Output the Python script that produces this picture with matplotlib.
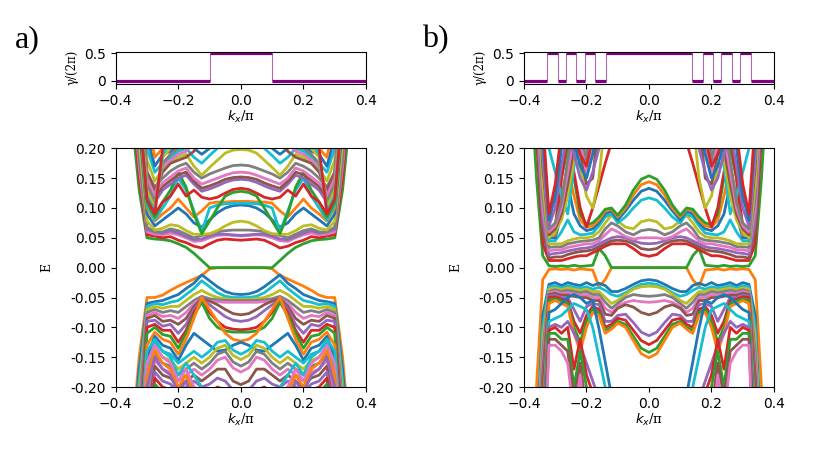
import numpy as np
import matplotlib
matplotlib.use("Agg")
import matplotlib.pyplot as plt

# ---------------- data ----------------
# Berry phase step data (edges of constant segments, value of each segment)
gamma_a_edges = [-0.4, -0.1, 0.1, 0.4]
gamma_a_vals = [0.0, 0.5, 0.0]
gamma_b_edges = [-0.4, -0.325, -0.29, -0.266, -0.232, -0.204, -0.172, -0.139,
                 0.139, 0.172, 0.204, 0.232, 0.266, 0.29, 0.325, 0.4]
gamma_b_vals = [0, .5, 0, .5, 0, .5, 0, .5, 0, .5, 0, .5, 0, .5, 0]

# half k grids (spectrum is symmetric in k)
ka_half = [0, .025, .05, .075, .1, .125, .15, .175, .2, .225, .25, .275, .3, .325, .35, .4]
kb_half = [0, .025, .05, .075, .1, .12, .14, .16, .18, .2, .22, .24, .26, .28, .3, .32, .34, .36, .4]

# panel a, E > 0 bands
a_upper = [
    [0, 0, 0, 0, 0, .012, .024, .034, .040, .045, .047, .048, .050, .13, .26, .40],
    [.046, .047, .048, .046, .040, .033, .036, .042, .046, .052, .050, .053, .055, .15, .30, .45],
    [.053, .054, .055, .054, .050, .045, .044, .050, .055, .058, .055, .056, .060, .17, .32, .45],
    [.054, .055, .056, .056, .053, .048, .047, .052, .058, .062, .058, .060, .064, .18, .33, .45],
    [.063, .063, .062, .060, .056, .054, .050, .056, .062, .065, .060, .060, .068, .19, .34, .45],
    [.078, .076, .070, .062, .057, .056, .056, .062, .070, .072, .066, .063, .078, .21, .36, .45],
    [.105, .104, .100, .092, .080, .068, .075, .090, .100, .090, .080, .070, .090, .24, .40, .45],
    [.111, .111, .110, .110, .108, .095, .085, .100, .115, .100, .090, .078, .100, .26, .40, .45],
    [.108, .108, .107, .105, .100, .060, .095, .130, .150, .120, .100, .080, .105, .27, .40, .45],
    [.128, .126, .120, .100, .078, .057, .090, .135, .160, .130, .110, .085, .110, .28, .40, .45],
    [.133, .131, .125, .118, .115, .118, .130, .120, .140, .120, .110, .090, .120, .30, .40, .45],
    [.148, .147, .143, .137, .132, .128, .140, .155, .150, .140, .130, .110, .130, .30, .40, .45],
    [.152, .151, .148, .142, .137, .133, .145, .160, .156, .146, .136, .118, .140, .32, .40, .45],
    [.160, .159, .155, .150, .145, .140, .150, .167, .162, .152, .142, .125, .150, .34, .40, .45],
    [.172, .171, .167, .162, .157, .150, .160, .175, .170, .162, .150, .135, .160, .36, .40, .45],
    [.198, .197, .192, .180, .168, .155, .170, .190, .185, .175, .165, .145, .180, .38, .40, .45],
    [.220, .218, .210, .200, .188, .175, .185, .200, .195, .185, .175, .160, .200, .40, .40, .45],
    [.240, .235, .228, .215, .200, .190, .200, .210, .205, .195, .190, .170, .220, .40, .45, .45],
    [.250, .250, .240, .230, .220, .210, .200, .220, .215, .205, .200, .185, .250, .40, .45, .45],
    [.300, .290, .270, .250, .230, .210, .195, .185, .180, .175, .160, .130, .160, .32, .45, .45],
    [.320, .310, .290, .270, .250, .230, .210, .195, .190, .180, .170, .120, .150, .31, .45, .45],
    [.340, .330, .310, .290, .270, .250, .230, .210, .200, .190, .175, .110, .140, .30, .45, .45],
    [.360, .350, .330, .310, .290, .270, .250, .220, .210, .200, .185, .100, .130, .29, .45, .45],
    [.380, .370, .350, .330, .310, .290, .270, .240, .220, .210, .190, .095, .120, .28, .45, .45],
    [.400, .390, .370, .350, .330, .310, .290, .260, .230, .220, .200, .090, .115, .27, .45, .45],
]
a_upper_colors = ['C2', 'C3', 'C6', 'C4', 'C7', 'C8', 'C0', 'C1', 'C9', 'C2', 'C3',
                  'C4', 'C5', 'C6', 'C7', 'C8', 'C9', 'C0', 'C1', 'C5', 'C6', 'C7',
                  'C8', 'C9', 'C3']

# panel a, E < 0 bands
a_lower = [
    [0, 0, 0, 0, -.002, -.013, -.019, -.025, -.031, -.038, -.046, -.050, -.050, -.15, -.30, -.45],
    [-.045, -.044, -.040, -.032, -.022, -.012, -.026, -.035, -.045, -.050, -.055, -.057, -.060, -.17, -.32, -.45],
    [-.050, -.050, -.048, -.042, -.032, -.022, -.035, -.045, -.055, -.058, -.062, -.060, -.065, -.19, -.34, -.45],
    [-.053, -.053, -.052, -.050, -.045, -.038, -.045, -.055, -.065, -.065, -.068, -.065, -.070, -.21, -.36, -.45],
    [-.055, -.055, -.055, -.054, -.052, -.048, -.055, -.065, -.075, -.072, -.075, -.070, -.075, -.23, -.38, -.45],
    [-.058, -.058, -.058, -.057, -.056, -.052, -.060, -.075, -.085, -.080, -.082, -.075, -.080, -.25, -.40, -.45],
    [-.079, -.077, -.070, -.062, -.056, -.052, -.065, -.085, -.095, -.088, -.090, -.080, -.085, -.27, -.40, -.45],
    [-.090, -.088, -.082, -.072, -.062, -.054, -.070, -.095, -.110, -.095, -.098, -.088, -.090, -.29, -.40, -.45],
    [-.104, -.103, -.100, -.090, -.075, -.056, -.075, -.105, -.125, -.105, -.105, -.095, -.100, -.31, -.40, -.45],
    [-.108, -.108, -.106, -.100, -.085, -.058, -.080, -.110, -.135, -.115, -.112, -.100, -.110, -.33, -.40, -.45],
    [-.123, -.120, -.110, -.090, -.070, -.050, -.085, -.120, -.145, -.125, -.120, -.108, -.130, -.35, -.40, -.45],
    [-.125, -.130, -.138, -.140, -.130, -.120, -.110, -.130, -.155, -.135, -.130, -.115, -.150, -.40, -.45, -.45],
    [-.145, -.138, -.122, -.125, -.140, -.150, -.140, -.150, -.160, -.145, -.140, -.125, -.170, -.40, -.45, -.45],
    [-.154, -.147, -.130, -.135, -.150, -.160, -.150, -.160, -.170, -.155, -.150, -.135, -.190, -.40, -.45, -.45],
    [-.165, -.158, -.140, -.145, -.160, -.170, -.160, -.170, -.180, -.165, -.160, -.145, -.210, -.40, -.45, -.45],
    [-.175, -.168, -.150, -.155, -.170, -.180, -.170, -.180, -.190, -.175, -.170, -.155, -.230, -.40, -.45, -.45],
    [-.196, -.190, -.170, -.170, -.180, -.190, -.180, -.190, -.200, -.185, -.180, -.165, -.250, -.40, -.45, -.45],
    [-.210, -.205, -.190, -.185, -.195, -.200, -.190, -.200, -.210, -.195, -.190, -.175, -.270, -.40, -.45, -.45],
    [-.225, -.220, -.205, -.200, -.210, -.210, -.200, -.210, -.220, -.205, -.200, -.185, -.290, -.40, -.45, -.45],
    [-.240, -.235, -.220, -.215, -.220, -.220, -.210, -.220, -.230, -.215, -.210, -.195, -.310, -.45, -.45, -.45],
    [-.260, -.250, -.240, -.230, -.220, -.200, -.180, -.160, -.180, -.150, -.140, -.120, -.140, -.30, -.45, -.45],
    [-.280, -.270, -.260, -.250, -.240, -.220, -.200, -.170, -.190, -.160, -.150, -.130, -.160, -.32, -.45, -.45],
    [-.300, -.290, -.280, -.270, -.260, -.240, -.210, -.180, -.200, -.170, -.160, -.140, -.180, -.34, -.45, -.45],
    [-.320, -.310, -.300, -.290, -.280, -.260, -.230, -.190, -.210, -.180, -.170, -.150, -.200, -.36, -.45, -.45],
]
a_lower_colors = ['C1', 'C0', 'C9', 'C8', 'C7', 'C6', 'C5', 'C4', 'C3', 'C2', 'C1', 'C0',
                  'C9', 'C8', 'C7', 'C6', 'C5', 'C4', 'C3', 'C2', 'C9', 'C6', 'C1', 'C4']

# panel b, E > 0 bands
b_upper = [
    [0, 0, 0, 0, 0, 0, .020, .032, .004, .003, .002, .004, .002, .003, .002, .003, .020, .15, .5],
    [.019, .022, .032, .040, .040, .040, .036, .030, .025, .020, .020, .018, .015, .012, .012, .012, .040, .22, .5],
    [.030, .032, .040, .045, .046, .045, .040, .035, .030, .028, .027, .025, .022, .018, .018, .016, .060, .24, .5],
    [.040, .041, .045, .050, .052, .050, .045, .040, .035, .033, .032, .030, .028, .025, .024, .022, .080, .26, .5],
    [.050, .050, .048, .052, .060, .065, .055, .045, .040, .040, .038, .036, .034, .030, .030, .028, .100, .28, .5],
    [.064, .062, .055, .060, .070, .075, .065, .050, .046, .045, .044, .042, .040, .035, .035, .034, .120, .30, .5],
    [.080, .077, .065, .068, .078, .088, .075, .060, .052, .050, .050, .048, .045, .040, .040, .040, .140, .32, .5],
    [.117, .113, .100, .085, .075, .090, .085, .070, .058, .056, .055, .060, .080, .060, .045, .045, .160, .34, .5],
    [.133, .128, .113, .095, .080, .095, .090, .075, .065, .062, .070, .090, .140, .090, .050, .050, .180, .36, .5],
    [.144, .139, .122, .100, .085, .098, .095, .080, .070, .068, .080, .120, .170, .120, .055, .055, .200, .38, .5],
    [.154, .148, .130, .105, .088, .100, .098, .085, .075, .072, .090, .150, .200, .150, .060, .060, .220, .40, .5],
    [.45, .40, .35, .30, .25, .21, .175, .137, .100, .068, .100, .160, .220, .150, .070, .060, .240, .45, .5],
    [.5, .5, .5, .5, .5, .5, .5, .45, .35, .28, .22, .17, .09, .12, .16, .20, .30, .5, .5],
    [.5, .5, .5, .5, .45, .35, .25, .15, .10, .12, .17, .18, .12, .08, .06, .05, .15, .40, .5],
    [.5, .5, .5, .5, .5, .45, .35, .25, .15, .14, .19, .20, .14, .09, .065, .055, .17, .42, .5],
    [.5, .5, .5, .5, .5, .5, .45, .35, .20, .16, .21, .22, .16, .10, .07, .06, .19, .44, .5],
    [.5, .5, .5, .5, .5, .5, .5, .45, .30, .18, .23, .24, .18, .11, .075, .065, .21, .46, .5],
    [.5, .5, .45, .40, .35, .30, .25, .20, .16, .13, .15, .19, .23, .17, .10, .07, .20, .45, .5],
    [.5, .5, .5, .45, .40, .35, .30, .24, .19, .15, .17, .21, .25, .20, .12, .08, .22, .47, .5],
    [.5, .5, .5, .5, .45, .40, .34, .28, .22, .17, .19, .23, .27, .23, .14, .09, .25, .5, .5],
]
b_upper_colors = ['C2', 'C3', 'C5', 'C4', 'C6', 'C7', 'C8', 'C9', 'C0', 'C1', 'C2',
                  'C3', 'C9', 'C8', 'C5', 'C6', 'C7', 'C4', 'C0', 'C3']

# panel b, E < 0 bands
b_lower = [
    [0, 0, 0, 0, 0, 0, -.020, -.032, -.004, -.003, -.002, -.004, -.002, -.003, -.002, -.003, -.020, -.20, -.5],
    [-.020, -.022, -.028, -.035, -.040, -.040, -.030, -.026, -.030, -.025, -.030, -.028, -.025, -.030, -.025, -.028, -.08, -.30, -.5],
    [-.026, -.028, -.034, -.042, -.048, -.045, -.038, -.033, -.036, -.032, -.034, -.033, -.030, -.034, -.030, -.032, -.10, -.32, -.5],
    [-.031, -.032, -.036, -.045, -.055, -.060, -.050, -.040, -.040, -.036, -.038, -.036, -.034, -.037, -.034, -.036, -.12, -.34, -.5],
    [-.048, -.047, -.045, -.050, -.060, -.068, -.058, -.045, -.045, -.040, -.042, -.040, -.038, -.040, -.037, -.040, -.14, -.36, -.5],
    [-.058, -.057, -.055, -.058, -.065, -.075, -.068, -.050, -.050, -.045, -.046, -.044, -.042, -.043, -.040, -.042, -.16, -.38, -.5],
    [-.079, -.075, -.066, -.062, -.068, -.080, -.078, -.055, -.055, -.050, -.050, -.048, -.046, -.046, -.043, -.045, -.18, -.40, -.5],
    [-.114, -.108, -.092, -.078, -.080, -.090, -.090, -.062, -.060, -.065, -.090, -.070, -.050, -.050, -.046, -.048, -.20, -.42, -.5],
    [-.129, -.122, -.105, -.088, -.085, -.095, -.100, -.070, -.065, -.080, -.110, -.090, -.055, -.053, -.049, -.050, -.22, -.44, -.5],
    [-.142, -.135, -.115, -.095, -.090, -.100, -.105, -.075, -.070, -.090, -.125, -.100, -.060, -.056, -.052, -.055, -.24, -.46, -.5],
    [-.151, -.144, -.122, -.100, -.093, -.103, -.110, -.080, -.075, -.100, -.140, -.110, -.065, -.060, -.055, -.060, -.26, -.48, -.5],
    [-.5, -.45, -.40, -.35, -.27, -.214, -.158, -.102, -.055, -.060, -.050, -.045, -.050, -.060, -.070, -.075, -.28, -.5, -.5],
    [-.5, -.45, -.40, -.35, -.30, -.25, -.20, -.15, -.10, -.070, -.065, -.060, -.070, -.080, -.085, -.090, -.30, -.5, -.5],
    [-.5, -.5, -.45, -.40, -.35, -.30, -.26, -.22, -.19, -.16, -.13, -.11, -.09, -.10, -.095, -.10, -.32, -.5, -.5],
    [-.5, -.5, -.5, -.45, -.40, -.35, -.30, -.25, -.21, -.18, -.12, -.17, -.10, -.11, -.10, -.105, -.34, -.5, -.5],
    [-.5, -.5, -.5, -.5, -.45, -.40, -.35, -.30, -.25, -.20, -.14, -.20, -.12, -.12, -.11, -.11, -.36, -.5, -.5],
    [-.5, -.5, -.5, -.5, -.5, -.45, -.40, -.35, -.30, -.24, -.16, -.22, -.14, -.13, -.12, -.12, -.38, -.5, -.5],
    [-.5, -.5, -.5, -.5, -.5, -.5, -.45, -.40, -.35, -.28, -.18, -.25, -.16, -.14, -.13, -.13, -.40, -.5, -.5],
]
b_lower_colors = ['C1', 'C0', 'C9', 'C8', 'C7', 'C6', 'C5', 'C4', 'C3', 'C2', 'C1',
                  'C0', 'C9', 'C4', 'C3', 'C2', 'C5', 'C6']

xticks = [-0.4, -0.2, 0.0, 0.2, 0.4]
eticks = [0.20, 0.15, 0.10, 0.05, 0.00, -0.05, -0.10, -0.15, -0.20]

# ---------------- plotting ----------------
plt.rcParams['font.size'] = 10
SERIF = 'DejaVu Serif'

fig = plt.figure(figsize=(8.3, 4.71), dpi=100)


def full(khalf, ehalf):
    k = np.asarray(khalf, float)
    e = np.asarray(ehalf, float)
    return np.concatenate([-k[::-1], k[1:]]), np.concatenate([e[::-1], e[1:]])


def gamma_axes(rect, edges, vals):
    ax = fig.add_axes(rect)
    edges = np.asarray(edges, float)
    ax.hlines(vals, edges[:-1], edges[1:], colors='purple', lw=2.3)
    ax.vlines(edges[1:-1], 0, 0.5, colors='purple', lw=0.8, alpha=0.6)
    ax.set_xlim(-0.4, 0.4)
    ax.set_ylim(-0.055, 0.53)
    ax.set_xticks(xticks)
    ax.set_yticks([0, 0.5])
    ax.set_yticklabels(['0', '0.5'])
    ax.set_xlabel(r'$k_x$/π', family=SERIF, fontsize=9.5, labelpad=1)
    ax.set_ylabel('γ/(2π)', family=SERIF, fontsize=8.5, labelpad=4)
    return ax


def band_axes(rect, khalf, upper, ucol, lower, lcol):
    ax = fig.add_axes(rect)
    for e, c in zip(lower, lcol):
        k, E = full(khalf, e)
        ax.plot(k, E, color=c, lw=2.0)
    for e, c in zip(upper, ucol):
        k, E = full(khalf, e)
        ax.plot(k, E, color=c, lw=2.0)
    ax.set_xlim(-0.4, 0.4)
    ax.set_ylim(-0.2, 0.2)
    ax.set_xticks(xticks)
    ax.set_yticks(eticks)
    ax.set_yticklabels(['%.2f' % t if abs(t) > 1e-9 else '0.00' for t in eticks])
    ax.set_xlabel(r'$k_x$/π', family=SERIF, fontsize=9.5, labelpad=1)
    ax.set_ylabel('E', family=SERIF, fontsize=9, labelpad=12)
    return ax


gamma_axes([0.1394, 0.8217, 0.3016, 0.0686], gamma_a_edges, gamma_a_vals)
band_axes([0.1394, 0.1783, 0.3016, 0.5068], ka_half, a_upper, a_upper_colors,
          a_lower, a_lower_colors)
gamma_axes([0.6313, 0.8217, 0.3012, 0.0686], gamma_b_edges, gamma_b_vals)
band_axes([0.6313, 0.1783, 0.3012, 0.5068], kb_half, b_upper, b_upper_colors,
          b_lower, b_lower_colors)

fig.text(0.018, 0.90, 'a)', family='Liberation Serif', fontsize=23, va='baseline')
fig.text(0.508, 0.90, 'b)', family='Liberation Serif', fontsize=23, va='baseline')

fig.savefig('out.png', dpi=100)
